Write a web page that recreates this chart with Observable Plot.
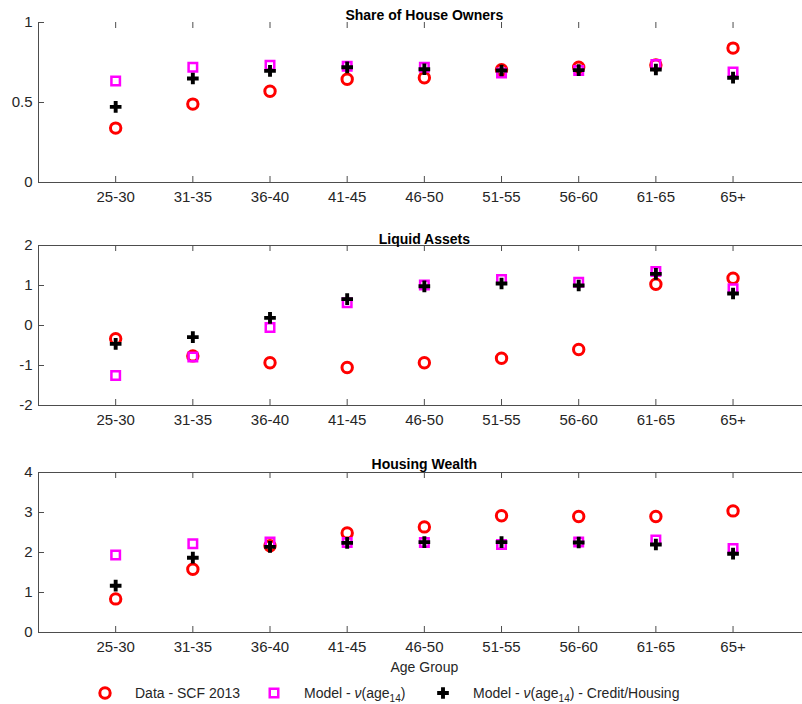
<!DOCTYPE html>
<html>
<head>
<meta charset="utf-8">
<script src="https://cdn.jsdelivr.net/npm/d3@7"></script>
<script src="https://cdn.jsdelivr.net/npm/@observablehq/plot@0.6"></script>
<style>
  body { margin: 0; background: #fff; font-family: "Liberation Sans", Arial, Helvetica, sans-serif; }
  #wrap { position: relative; width: 802px; height: 704px; overflow: hidden; background: #fff; }
  .panel { position: absolute; left: 0; }
  .leg { position: absolute; top: 684px; height: 18px; display: flex; align-items: center; font-size: 14px; color: #262626; white-space: nowrap; }
  .leg svg { display: block; }
  .leg sub { font-size: 10px; vertical-align: -4px; line-height: 0; }
</style>
</head>
<body>
<div id="wrap"></div>
<script>
// ---- data ----
const groups = ["25-30", "31-35", "36-40", "41-45", "46-50", "51-55", "56-60", "61-65", "65+"];

const ownersData   = [0.34, 0.49, 0.57, 0.645, 0.655, 0.705, 0.72, 0.735, 0.84];
const ownersModel  = [0.635, 0.72, 0.733, 0.727, 0.72, 0.685, 0.70, 0.737, 0.69];
const ownersCredit = [0.473, 0.65, 0.698, 0.72, 0.708, 0.70, 0.702, 0.706, 0.655];

const liquidData   = [-0.33, -0.76, -0.93, -1.05, -0.93, -0.82, -0.60, 1.03, 1.18];
const liquidModel  = [-1.25, -0.79, -0.05, 0.57, 1.01, 1.15, 1.08, 1.35, 0.92];
const liquidCredit = [-0.46, -0.29, 0.19, 0.66, 0.98, 1.05, 1.00, 1.29, 0.80];

const housingData   = [0.84, 1.58, 2.17, 2.49, 2.64, 2.92, 2.90, 2.90, 3.04];
const housingModel  = [1.94, 2.22, 2.26, 2.25, 2.25, 2.20, 2.26, 2.31, 2.10];
const housingCredit = [1.17, 1.87, 2.14, 2.24, 2.26, 2.26, 2.25, 2.20, 1.97];

const titles = ["Share of House Owners", "Liquid Assets", "Housing Wealth"];
const yTicks1 = [0, 0.5, 1];
const yTicks2 = [-2, -1, 0, 1, 2];
const yTicks3 = [0, 1, 2, 3, 4];
const xLabel = "Age Group";
const legendLabels = [
  "Data - SCF 2013",
  "Model - <i>\u03bd</i>(age<sub>14</sub>)",
  "Model - <i>\u03bd</i>(age<sub>14</sub>) - Credit/Housing"
];

// ---- styling ----
const axisColor = "#4d4d4d";
const textColor = "#262626";
const RED = "#ff0000", MAG = "#ff00ff", BLK = "#000000";
const W = 802, ML = 38, FH = 160, MT = 22;
const wrap = document.getElementById("wrap");

function panel({title, data, model, credit, yDomain, yTicks, top, marginBottom, titleDy, topBorder, withXLabel}) {
  const rows = groups.map((g, k) => ({i: k + 1, g, data: data[k], model: model[k], credit: credit[k]}));
  const frameW = W - ML;
  const marks = [
    Plot.ruleX([0], {stroke: axisColor, strokeWidth: 1}),
    Plot.ruleY([yDomain[0]], {stroke: axisColor, strokeWidth: 1}),
    topBorder ? Plot.ruleY([yDomain[1]], {stroke: axisColor, strokeWidth: 1}) : null,
    // inward ticks
    Plot.ruleX(rows, {x: "i", insetTop: FH - 6, stroke: axisColor}),
    Plot.ruleX(rows, {x: "i", insetBottom: FH - 6, stroke: axisColor}),
    Plot.ruleY(yTicks, {insetRight: frameW - 6, stroke: axisColor}),
    Plot.axisX(rows.map(d => d.i), {
      tickSize: 0, tickPadding: 9, fontSize: 15, fill: textColor,
      tickFormat: v => groups[v - 1], label: null
    }),
    Plot.axisY(yTicks, {
      tickSize: 0, tickPadding: 6, fontSize: 15, fill: textColor,
      tickFormat: v => String(v), label: null
    }),
    Plot.dot(rows, {x: "i", y: "data", symbol: "circle", r: 5.2, stroke: RED, strokeWidth: 3, fill: "none"}),
    Plot.dot(rows, {x: "i", y: "model", symbol: "square", r: 4.8, stroke: MAG, strokeWidth: 2.5, fill: "none"}),
    Plot.dot(rows, {x: "i", y: "credit", symbol: "cross", r: 4.9, fill: BLK, stroke: "none"}),
    Plot.text([title], {text: d => d, x: 5, frameAnchor: "top", dy: titleDy, fontSize: 14, fontWeight: "bold", fill: "#000"}),
    withXLabel ? Plot.text([xLabel], {text: d => d, x: 5, frameAnchor: "bottom", dy: 39, fontSize: 14, fill: textColor}) : null
  ];
  const svg = Plot.plot({
    width: W,
    height: MT + FH + marginBottom,
    marginLeft: ML,
    marginRight: 0,
    marginTop: MT,
    marginBottom,
    style: {fontFamily: '"Liberation Sans", Arial, Helvetica, sans-serif', background: "#fff", overflow: "visible"},
    x: {domain: [0, 9.9]},
    y: {domain: yDomain},
    marks
  });
  svg.classList.add("panel");
  svg.style.top = top + "px";
  wrap.appendChild(svg);
}

panel({title: titles[0], data: ownersData, model: ownersModel, credit: ownersCredit,
  yDomain: [0, 1], yTicks: yTicks1, top: 0, marginBottom: 30, titleDy: -12, topBorder: false});
panel({title: titles[1], data: liquidData, model: liquidModel, credit: liquidCredit,
  yDomain: [-2, 2], yTicks: yTicks2, top: 223, marginBottom: 30, titleDy: -11, topBorder: true});
panel({title: titles[2], data: housingData, model: housingModel, credit: housingCredit,
  yDomain: [0, 4], yTicks: yTicks3, top: 450, marginBottom: 50, titleDy: -13, topBorder: true, withXLabel: true});

// ---- legend ----
const legendSymbols = [
  {type: d3.symbolCircle, r: 5.2, fill: "none", stroke: RED, sw: 3},
  {type: d3.symbolSquare, r: 4.8, fill: "none", stroke: MAG, sw: 2.5},
  {type: d3.symbolCross, r: 4.9, fill: BLK, stroke: "none", sw: 0}
];
const legendLeft = [92, 261, 430];
legendLabels.forEach((lab, k) => {
  const s = legendSymbols[k];
  const div = document.createElement("div");
  div.className = "leg";
  div.style.left = legendLeft[k] + "px";
  const path = d3.symbol(s.type, Math.PI * s.r * s.r)();
  div.innerHTML =
    `<svg width="26" height="18"><path transform="translate(13,9)" d="${path}" fill="${s.fill}" stroke="${s.stroke}" stroke-width="${s.sw}"></path></svg>` +
    `<span style="margin-left:17px">${lab}</span>`;
  wrap.appendChild(div);
});
</script>
</body>
</html>
